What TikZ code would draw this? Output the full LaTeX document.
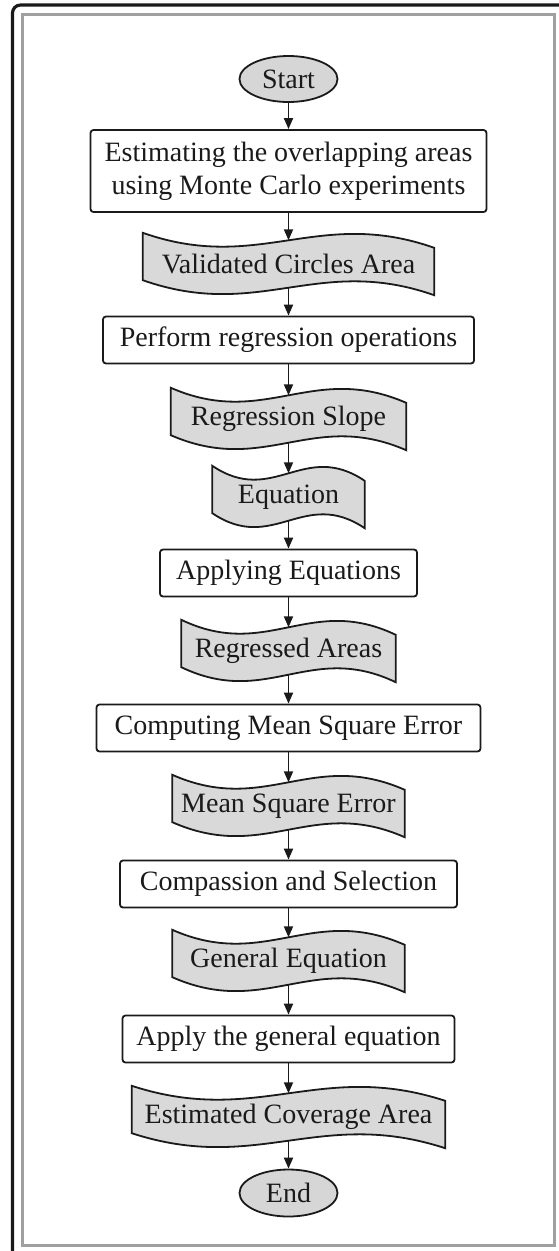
\documentclass[tikz,border=0pt]{standalone}
\usepackage{fontspec}
\setmainfont{Liberation Serif}
\usetikzlibrary{arrows.meta,calc,shapes.geometric}
\definecolor{docgray}{HTML}{D9D9D9}
\definecolor{termgray}{HTML}{D6D6D6}
\definecolor{framegray}{HTML}{A0A0A0}
\definecolor{ink}{HTML}{1A1A1A}
\pgfdeclarelayer{background}
\pgfsetlayers{background,main}
\newcommand\docshape[1]{%
 \path[docline] ($(#1.north west)+(0,-7.5)$) .. controls ($(#1.north west)!0.4!(#1.north east)+(0,33.5)$) and ($(#1.north west)!0.6!(#1.north east)+(0,-33.5)$) .. ($(#1.north east)+(0,7.5)$) -- ($(#1.south east)+(0,7.5)$) .. controls ($(#1.south west)!0.6!(#1.south east)+(0,-33.5)$) and ($(#1.south west)!0.4!(#1.south east)+(0,33.5)$) .. ($(#1.south west)+(0,-7.5)$) -- cycle;}
\begin{document}
\begin{tikzpicture}[x=1pt,y=-1pt,
  every node/.style={font=\fontsize{28}{33}\selectfont, text=ink},
  procbox/.style={draw=ink, rounded corners=3pt, line width=1.8pt, minimum height=47pt, inner sep=0pt, align=center},
  docnode/.style={minimum height=47pt, inner sep=0pt},
  term/.style={ellipse, draw=ink, fill=termgray, line width=1.8pt, minimum width=98pt, minimum height=46pt, inner sep=0pt},
  flow/.style={-{Triangle[length=11pt,width=9pt]}, line width=1.8pt, draw=ink},
  docline/.style={draw=ink, fill=docgray, line width=1.8pt}
]
\useasboundingbox (0,0) rectangle (559,1251);
\clip (0,0) rectangle (559,1251);
\draw[line width=3.2pt, rounded corners=8pt, ink] (12.5,5) rectangle (585,1275);
\draw[line width=3pt, framegray] (22,14.5) rectangle (554.5,1245.5);

\node[term] (start) at (288.5,79) {Start};
\node[procbox, minimum width=396pt, minimum height=82pt] (b1) at (288.5,171) {Estimating the overlapping areas\\using Monte Carlo experiments};
\node[docnode, minimum width=291pt] (d1) at (288.5,264) {Validated Circles Area};
\node[procbox, minimum width=371pt] (b2) at (288.5,340) {Perform regression operations};
\node[docnode, minimum width=235pt] (d2) at (288.5,419) {Regression Slope};
\node[docnode, minimum width=152pt] (d3) at (288.5,497) {Equation};
\node[procbox, minimum width=257pt] (b3) at (288.5,573) {Applying Equations};
\node[docnode, minimum width=214pt] (d4) at (288.5,651) {Regressed Areas};
\node[procbox, minimum width=384pt] (b4) at (288.5,728) {Computing Mean Square Error};
\node[docnode, minimum width=232pt] (d5) at (288.5,806) {Mean Square Error};
\node[procbox, minimum width=337pt] (b5) at (288.5,884) {Compassion and Selection};
\node[docnode, minimum width=232pt] (d6) at (288.5,961) {General Equation};
\node[procbox, minimum width=332pt] (b6) at (288.5,1039) {Apply the general equation};
\node[docnode, minimum width=313pt] (d7) at (288.5,1117) {Estimated Coverage Area};
\node[term, minimum height=47pt] (end) at (288.5,1193) {End};

\begin{pgfonlayer}{background}
\docshape{d1}\docshape{d2}\docshape{d3}\docshape{d4}\docshape{d5}\docshape{d6}\docshape{d7}
\end{pgfonlayer}

\draw[flow] (start.south) -- (b1.north);
\draw[flow] (b1.south) -- (d1.north);
\draw[flow] (d1.south) -- (b2.north);
\draw[flow] (b2.south) -- (d2.north);
\draw[flow] (d2.south) -- (d3.north);
\draw[flow] (d3.south) -- (b3.north);
\draw[flow] (b3.south) -- (d4.north);
\draw[flow] (d4.south) -- (b4.north);
\draw[flow] (b4.south) -- (d5.north);
\draw[flow] (d5.south) -- (b5.north);
\draw[flow] (b5.south) -- (d6.north);
\draw[flow] (d6.south) -- (b6.north);
\draw[flow] (b6.south) -- (d7.north);
\draw[flow] (d7.south) -- (end.north);
\end{tikzpicture}
\end{document}
